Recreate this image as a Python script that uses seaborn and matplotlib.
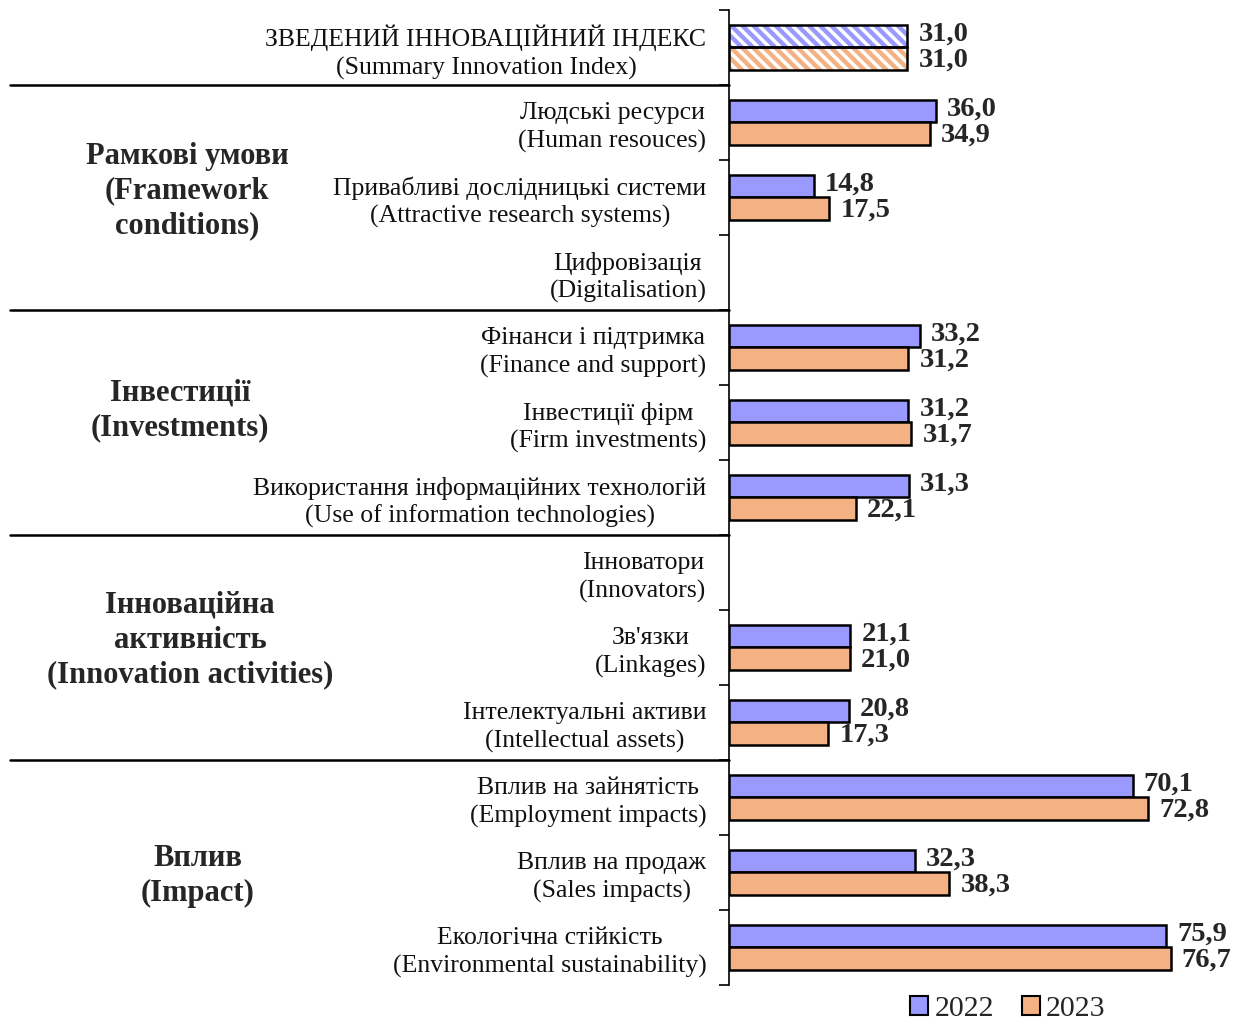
import pandas as pd
import numpy as np
import seaborn as sns
import matplotlib.pyplot as plt
from matplotlib.patches import Rectangle, Patch
from matplotlib.lines import Line2D
from matplotlib.transforms import blended_transform_factory

categorias = [
    'ЗВЕДЕНИЙ ІННОВАЦІЙНИЙ ІНДЕКС\n(Summary Innovation Index)',
    'Людські ресурси\n(Human resouces)',
    'Привабливі дослідницькі системи\n(Attractive research systems)',
    'Цифровізація\n(Digitalisation)',
    'Фінанси і підтримка\n(Finance and support)',
    'Інвестиції фірм\n(Firm investments)',
    'Використання інформаційних технологій\n(Use of information technologies)',
    'Інноватори\n(Innovators)',
    "Зв'язки\n(Linkages)",
    'Інтелектуальні активи\n(Intellectual assets)',
    'Вплив на зайнятість\n(Employment impacts)',
    'Вплив на продаж\n(Sales impacts)',
    'Екологічна стійкість\n(Environmental sustainability)',
]
valores2022 = [31.0, 36.0, 14.8, np.nan, 33.2, 31.2, 31.3, np.nan, 21.1, 20.8, 70.1, 32.3, 75.9]
valores2023 = [31.0, 34.9, 17.5, np.nan, 31.2, 31.7, 22.1, np.nan, 21.0, 17.3, 72.8, 38.3, 76.7]
anos = ['2022', '2023']

grupos = ['Рамкові умови\n(Framework\nconditions)',
          'Інвестиції\n(Investments)',
          'Інноваційна\nактивність\n(Innovation activities)',
          'Вплив\n(Impact)']
posGrupos = [(187, 191), (180, 410), (190, 640), (198, 876)]
separadores = [0.5, 3.5, 6.5, 9.5]

corAzul = '#9999FF'
corLaranja = '#F4B183'

df = pd.DataFrame({
    'categoria': categorias * 2,
    'valor': valores2022 + valores2023,
    'ano': [anos[0]] * len(categorias) + [anos[1]] * len(categorias),
})

sns.set_style('white')
plt.rcParams['font.family'] = ['Liberation Serif', 'DejaVu Serif']
plt.rcParams['hatch.linewidth'] = 2.5

fig = plt.figure(figsize=(12.44, 10.25), dpi=100)
W, H = 1244, 1025
ax = fig.add_axes([728.6 / W, 1 - 984.5 / H, 490 / W, 975 / H])

sns.barplot(data=df, y='categoria', x='valor', hue='ano', orient='h',
            palette=[corAzul, corLaranja], saturation=1, width=0.6, gap=0,
            errorbar=None, edgecolor='black', linewidth=1.8, legend=False, ax=ax)

ax.set_xlim(0, 85)
ax.set_ylim(12.5, -0.5)
ax.set_xlabel('')
ax.set_ylabel('')
ax.set_xticks([])
sns.despine(ax=ax, left=False, bottom=True, top=True, right=True)
ax.spines['left'].set_color('black')
ax.spines['left'].set_linewidth(1.2)

ax.set_yticks(range(len(categorias)))
ax.set_yticklabels(categorias, fontsize=18.5)
for lbl in ax.get_yticklabels():
    lbl.set_multialignment('center')
    lbl.set_linespacing(1.3)
    lbl.set_color('#111111')
ax.tick_params(axis='y', which='major', length=0, pad=16)
ax.set_yticks(np.arange(-0.5, len(categorias)), minor=True)
ax.tick_params(axis='y', which='minor', left=True, length=7, width=1.2, color='black')

# primeira linha com hachura
for c in ax.containers:
    bar = c.patches[0]
    x0, y0 = bar.get_xy()
    bar.set_hatch('\\\\\\')
    bar.set_edgecolor('white')
    bar.set_linewidth(0)
    ax.add_patch(Rectangle((x0, y0), bar.get_width(), bar.get_height(),
                           fill=False, edgecolor='black', linewidth=1.8, zorder=3))

for c, dy in zip(ax.containers, [1, -1.5]):
    rotulos = [f'{v:.1f}'.replace('.', ',') for v in c.datavalues]
    textos = ax.bar_label(c, labels=rotulos, padding=8, fontsize=20.5, fontweight='bold')
    for t in textos:
        t.xyann = (8, dy)

trans = blended_transform_factory(fig.transFigure, ax.transData)
for y in separadores:
    ax.add_line(Line2D([10 / W, 728.6 / W], [y, y], transform=trans,
                       color='black', linewidth=1.8, clip_on=False))

for texto, (x, y) in zip(grupos, posGrupos):
    fig.text(x / W, 1 - y / H, texto, ha='center', va='center',
             fontsize=22, fontweight='bold', linespacing=1.25)

handles = [Patch(facecolor=corAzul, edgecolor='black', linewidth=1.5),
           Patch(facecolor=corLaranja, edgecolor='black', linewidth=1.5)]
fig.legend(handles, anos, loc='center', bbox_to_anchor=(1008 / W, 1 - 1009 / H),
           ncol=2, frameon=False, fontsize=21.5, handlelength=0.6, handleheight=0.6,
           handletextpad=0.2, columnspacing=0.95, borderpad=0.1)

plt.savefig('out.png', dpi=100)
plt.close()
